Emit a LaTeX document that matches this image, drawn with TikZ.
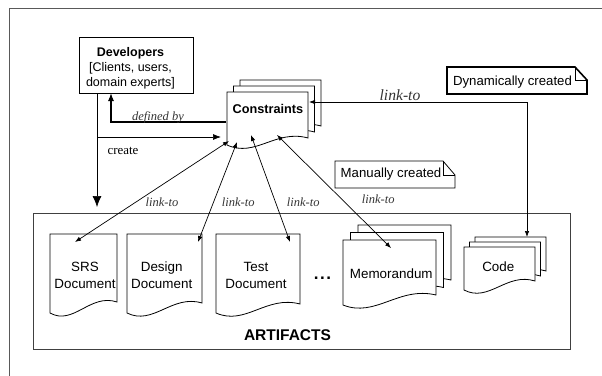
\documentclass[tikz,border=0pt]{standalone}
\usepackage{fontspec}
\setmainfont{Liberation Sans}
\newfontfamily\serifit{Liberation Serif}
\usetikzlibrary{arrows.meta,calc}

\tikzset{
  docline/.style={draw=black, fill=white, line width=0.8pt},
  conn/.style={line width=0.7pt, draw=black},
  tipsm/.style={{Latex[length=6pt,width=4.5pt]}-{Latex[length=6pt,width=4.5pt]}},
  linklbl/.style={font=\serifit\itshape\fontsize{12.5}{14}\selectfont, text=black!80, inner sep=0pt},
  doctext/.style={font=\fontsize{13.4}{16.7}\selectfont, align=center, inner sep=0pt},
  notetext/.style={font=\fontsize{13.2}{15}\selectfont, inner sep=0pt},
}

\newcommand\DocPage[5]{%
  \pgfmathsetmacro\DPa{#1+0.6*(#3-#1)}%
  \pgfmathsetmacro\DPb{#1+0.35*(#3-#1)}%
  \pgfmathsetmacro\DPc{#5-9}%
  \pgfmathsetmacro\DPd{#4+13}%
  \filldraw[docline] (#1,#2) -- (#3,#2) -- (#3,#5) .. controls (\DPa,\DPc) and (\DPb,\DPd) .. (#1,#4) -- cycle;}

\newcommand\NotePage[7]{% x1 y1 x2 y2 fx fy width
  \filldraw[draw=black, fill=white, line width=#7] (#1,#2) -- ({#3-#5},#2) -- (#3,{#2+#6}) -- (#3,#4) -- (#1,#4) -- cycle;
  \draw[line width=0.7pt] ({#3-#5},#2) -- ({#3-#5},{#2+#6}) -- (#3,{#2+#6});}

\begin{document}
\begin{tikzpicture}[x=1pt,y=-1pt]
\useasboundingbox (0,0) rectangle (602,375);
% outer frame
\draw[line width=0.9pt, draw=black!65] (9,380) -- (9,8) -- (610,8);

% artifacts container
\draw[line width=1pt, draw=black!75] (33,213) rectangle (570,349);
\node[font=\bfseries\fontsize{15.5}{17}\selectfont, inner sep=0pt] (artlbl) at (287.5,335) {ARTIFACTS};

% developers box
\draw[line width=0.8pt] (79,37) rectangle (193,93);
\node[align=center, font=\fontsize{12.5}{15}\selectfont, inner sep=0pt] (dev) at (130.5,68)
  {\textbf{Developers}\\{[}Clients, users,\\domain experts{]}};

% constraints stack
\DocPage{240}{80}{321}{133}{126}
\DocPage{233.5}{86}{314.5}{139}{132}
\DocPage{227}{92}{308}{145}{138}
\node[font=\bfseries\fontsize{12.7}{14}\selectfont, inner sep=0pt] (cons) at (268,108.5) {Constraints};

% documents
\DocPage{50}{234}{117}{313}{302}
\node[doctext] (srs) at (85,275.5) {SRS\\Document};
\DocPage{127}{234}{202}{313}{303}
\node[doctext] (design) at (161.7,275.5) {Design\\Document};
\DocPage{216}{234}{300}{313}{304}
\node[doctext] (test) at (256,275.5) {Test\\Document};
\node[font=\bfseries\fontsize{17}{17}\selectfont, inner sep=0pt, anchor=base] (dots) at (322.5,279) {.\kern1.5pt.\kern1.5pt.};

% memorandum stack
\DocPage{358}{225}{451}{290}{280}
\DocPage{350.5}{232.5}{443.5}{297.5}{287.5}
\DocPage{343}{240}{436}{305}{295}
\node[doctext] (memo) at (391.3,273.3) {Memorandum};

% code stack
\DocPage{475}{237}{546}{280}{271}
\DocPage{469.5}{242}{540.5}{285}{276}
\DocPage{464}{247}{535}{290}{281}
\node[doctext] (code) at (498.3,266.7) {Code};

% notes
\NotePage{447}{67}{587}{94}{12}{13}{1.6pt}
\node[notetext] (dyn) at (512.5,82.5) {Dynamically created};
\NotePage{335}{161}{455}{188}{12}{14}{0.8pt}
\node[notetext] (man) at (391,174) {Manually created};

% connector end points
\coordinate (devA) at (97,93);
\coordinate (devB) at (111,93);
\coordinate (artTop) at (97,207);
\coordinate (createJ) at (97,137);
\coordinate (consCreate) at (221,137);
\coordinate (consDef) at (226,122);
\coordinate (consRight) at (309,102);
\coordinate (codeTop) at (527,237);
\coordinate (consS) at (229,141);
\coordinate (consD) at (237,142);
\coordinate (consT) at (251,135);
\coordinate (consM) at (277,135);
\coordinate (srsIn) at (75,242);
\coordinate (designIn) at (198,242);
\coordinate (testIn) at (290,242);
\coordinate (memoIn) at (391,248);

% developer connectors
\draw[conn, -{Latex[length=11pt,width=9pt]}] (devA) -- (artTop);
\draw[conn, -{Latex[length=8pt,width=6pt]}] (createJ) -- (consCreate);
\draw[line width=1.1pt, -{Latex[length=8pt,width=6pt]}] (consDef) -| (devB);
\node[linklbl] (defby) at (158,117.5) {defined by};
\node[font=\serifit\fontsize{12.9}{14}\selectfont, inner sep=0pt] (create) at (123,151) {create};

% link-to connectors
\draw[conn, tipsm] (consRight) -| (codeTop);
\node[font=\serifit\itshape\fontsize{15.6}{17}\selectfont, text=black!80, inner sep=0pt] (lt0) at (400,95) {link-to};
\draw[conn, tipsm] (consS) -- (srsIn);
\draw[conn, tipsm] (consD) -- (designIn);
\draw[conn, tipsm] (consT) -- (testIn);
\draw[conn, tipsm] (consM) -- (memoIn);
\node[linklbl] (lt1) at (162,202) {link-to};
\node[linklbl] (lt2) at (238.3,202) {link-to};
\node[linklbl] (lt3) at (303.3,202) {link-to};
\node[linklbl] (lt4) at (378.3,199.3) {link-to};
\end{tikzpicture}
\end{document}
